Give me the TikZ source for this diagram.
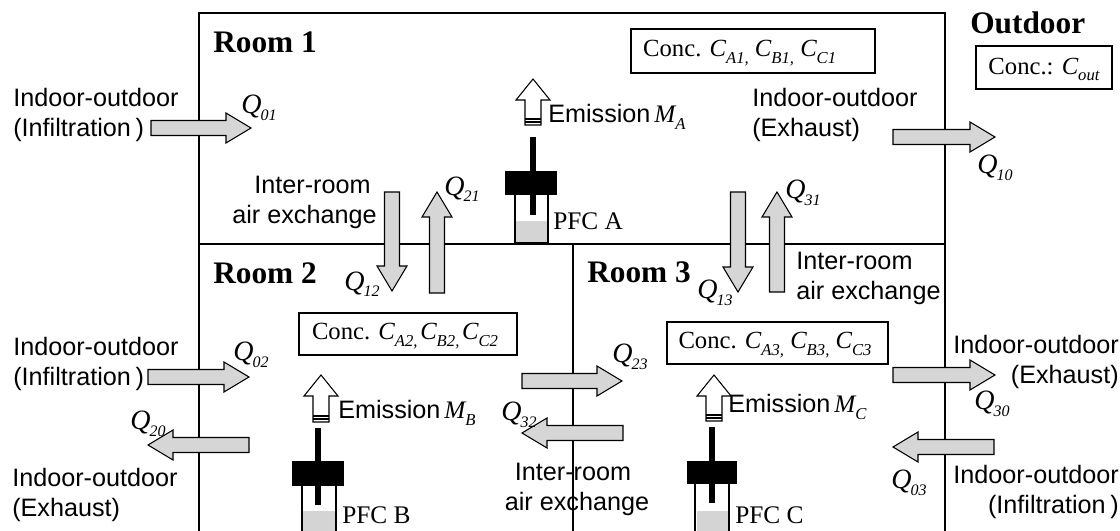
\documentclass[tikz,border=0pt]{standalone}
\usepackage{fontspec}
\setmainfont{Liberation Serif}
\newfontfamily\arialf{Liberation Sans}
\newcommand{\Sb}[1]{\raisebox{-0.55ex}{\rmfamily\fontsize{12.5}{14}\selectfont\itshape #1}}
\newcommand{\Qb}[1]{\raisebox{-0.5ex}{\rmfamily\fontsize{12}{14}\selectfont\itshape #1}}
\newcommand{\Qq}[1]{{\rmfamily\itshape Q}\hspace{-.8pt}\Qb{#1}}
\newcommand{\Cc}[1]{{\rmfamily\itshape C}\Sb{#1}}
\newcommand{\Mm}[1]{\hspace{-2.4pt}{\rmfamily\itshape M}\Sb{#1}}
\newcommand{\blockarrow}[4]{\begin{scope}[shift={(#1,#2)},rotate=#3]
 \draw[flowarrow] (0,-7.5)--(#4-25,-7.5)--(#4-25,-15)--(#4,0)--(#4-25,15)--(#4-25,7.5)--(0,7.5)--cycle;
\end{scope}}
\newcommand{\emission}[3]{\begin{scope}[shift={(#1,#2)}]
 \draw[emit] (-8,#3)--(-8,21)--(-17,21)--(0,0)--(17,21)--(8,21)--(8,#3)--cycle;
 \draw[black,line width=.9pt] (-8,#3-6)--(8,#3-6);
 \draw[black,line width=.9pt] (-8,#3-3)--(8,#3-3);
\end{scope}}
\newcommand{\cstrut}{\rule{0pt}{15.5pt}}
\tikzset{
 x=0.75pt,y=-0.75pt,
 wall/.style={black,line width=1.1pt},
 flowarrow/.style={draw=black,fill=black!16,line width=.8pt,line join=miter},
 emit/.style={draw=black,fill=white,line width=.8pt,line join=miter},
 lab/.style={font=\arialf\fontsize{18.9}{22.5}\selectfont,inner sep=0pt,align=left},
 qlab/.style={font=\fontsize{21}{24}\selectfont,inner sep=0pt},
 room/.style={font=\bfseries\fontsize{23.5}{26}\selectfont,inner sep=0pt,anchor=west},
 conc/.style={draw=black,line width=.8pt,fill=white,font=\fontsize{18.5}{20}\selectfont,inner sep=0pt,anchor=center},
 pfc/.style={font=\fontsize{19}{20}\selectfont,inner sep=0pt,anchor=west},
 rod/.style={black,line width=3.8pt},
 capblock/.style={fill=black,draw=none},
 cyl/.style={draw=black,line width=.8pt,fill=white},
 liquid/.style={fill=black!17,draw=none},
}
\begin{document}
\begin{tikzpicture}
\useasboundingbox (0,0) rectangle (1120,531);
% pistons
\fill[liquid] (516,221) rectangle (547,243);
\draw[cyl,fill=none] (515,195)--(515,243)--(548,243)--(548,195);
\fill[capblock] (505,171) rectangle (557,195);
\draw[rod] (533,137)--(533,215);
\fill[liquid] (303,511) rectangle (335,531);
\draw[cyl,fill=none] (302,486)--(302,531) (336,486)--(336,531);
\fill[capblock] (292,461) rectangle (344,486);
\draw[rod] (318,428)--(318,505);
\fill[liquid] (697,511) rectangle (728,531);
\draw[cyl,fill=none] (695,484)--(695,531) (729,484)--(729,531);
\fill[capblock] (687,461) rectangle (737,484);
\draw[rod] (712,427)--(712,503);
% walls
\draw[wall] (199,531)--(199,13)--(945,13)--(945,531);
\draw[wall] (199,244)--(945,244);
\draw[wall] (573,244)--(573,531);
% flows
\blockarrow{151}{128}{0}{100}
\blockarrow{148}{377}{0}{101}
\blockarrow{249}{445}{180}{101}
\blockarrow{522}{381}{0}{100}
\blockarrow{623}{433}{180}{101}
\blockarrow{893}{137}{0}{102}
\blockarrow{893}{375}{0}{102}
\blockarrow{994}{447}{180}{101}
\blockarrow{392}{192}{-90}{99}
\blockarrow{437}{293}{90}{101}
\blockarrow{738}{192}{-90}{100}
\blockarrow{777}{292}{90}{100}
% emission
\emission{533}{79}{46}
\emission{321}{375}{47}
\emission{714}{375}{46}
% boxes
\node[conc,minimum width=183pt,minimum height=33pt] (c1) at (753,51) {\cstrut Conc. \Cc{A1,} \Cc{B1,} \Cc{C1}\hspace*{20pt}};
\node[conc,minimum width=102pt,minimum height=32.25pt] (cout) at (1044,67.5) {\cstrut Conc.: \Cc{out}};
\node[conc,minimum width=163.5pt,minimum height=31.5pt] (c2) at (408,334) {\cstrut Conc. \Cc{A2,}\hspace{2pt}\Cc{B2,}\hspace{2pt}\Cc{C2}\hspace*{4.5pt}};
\node[conc,minimum width=165.75pt,minimum height=31.5pt] (c3) at (777.5,343) {\cstrut Conc. \Cc{A3,} \Cc{B3,} \Cc{C3}\hspace*{3.75pt}};
% rooms
\node[room] (r1) at (213,42) {Room 1};
\node[room] (r2) at (213,273) {Room 2};
\node[room] (r3) at (587,272) {Room 3};
\node[room] (ro) at (970,23) {Outdoor};
% labels
\node[lab,anchor=west] (l1) at (13,115) {Indoor-outdoor\\(Infiltration\hspace{3.5pt})};
\node[lab,anchor=west] (l2) at (13,364) {Indoor-outdoor\\(Infiltration\hspace{3.5pt})};
\node[lab,anchor=west] (l3) at (12,495) {Indoor-outdoor\\(Exhaust)};
\node[lab,anchor=west] (l4) at (752,115) {Indoor-outdoor\\(Exhaust)};
\node[lab,anchor=east,align=right] (l5) at (1119,362) {Indoor-outdoor\\(Exhaust)};
\node[lab,anchor=east,align=right] (l6) at (1119,492) {Indoor-outdoor\\(Infiltration\hspace{3.5pt})};
\node[lab,align=right] (l7) at (304.5,202.5) {Inter-room\hspace*{4.5pt}\\air exchange};
\node[lab,anchor=west] (l8) at (796,278) {Inter-room\\air exchange};
\node[lab,align=center] (l9) at (577,489) {Inter-room\hspace*{6pt}\\air exchange};
\node[lab,anchor=west] (e1) at (548,117) {Emission \Mm{A}};
\node[lab,anchor=west] (e2) at (338,413) {Emission \Mm{B}};
\node[lab,anchor=west] (e3) at (728,407) {Emission \Mm{C}};
\node[pfc] (p1) at (553,221) {PFC A};
\node[pfc] (p2) at (342,515) {PFC B};
\node[pfc] (p3) at (735,515) {PFC C};
% Q labels
\node[qlab] (q01) at (259,108) {\Qq{01}};
\node[qlab] (q02) at (251,355) {\Qq{02}};
\node[qlab] (q20) at (148,424) {\Qq{20}};
\node[qlab] (q10) at (995,168) {\Qq{10}};
\node[qlab] (q21) at (462,189) {\Qq{21}};
\node[qlab] (q12) at (362,284) {\Qq{12}};
\node[qlab] (q31) at (803,193) {\Qq{31}};
\node[qlab] (q13) at (715,293) {\Qq{13}};
\node[qlab] (q23) at (630,357) {\Qq{23}};
\node[qlab] (q32) at (519,415) {\Qq{32}};
\node[qlab] (q30) at (992,404) {\Qq{30}};
\node[qlab] (q03) at (909,483) {\Qq{03}};
\end{tikzpicture}
\end{document}
